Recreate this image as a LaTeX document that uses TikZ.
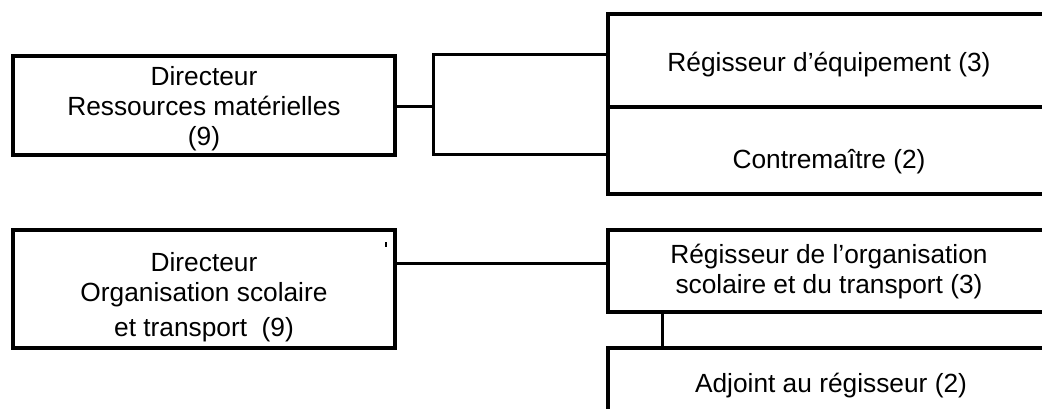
\documentclass[tikz,border=0pt]{standalone}
\usepackage{fontspec}
\setmainfont{Liberation Sans}
\begin{document}
\begin{tikzpicture}[x=1pt,y=-1pt,
  box/.style={draw=black, line width=4pt, rectangle, inner sep=0pt, outer sep=0pt},
  conn/.style={draw=black, line width=3pt},
  txt/.style={font=\fontsize{26.3}{30}\selectfont, align=center, inner sep=0pt, anchor=base}]
\useasboundingbox (0,0) rectangle (1042,408);
\clip (0,0) rectangle (1042,408);
% left boxes
\node[box, minimum width=381.4, minimum height=98.4] (d1) at (204,105.5) {};
\node[box, minimum width=381.7, minimum height=118] (d3) at (204.15,289) {};
% right boxes (open to the right edge)
\node[box, minimum width=492.3, minimum height=93.3] (r1) at (853.85,60.65) {};
\node[box, minimum width=492.3, minimum height=86.7] (r2) at (853.85,150.65) {};
\node[box, minimum width=492.3, minimum height=82] (r4) at (853.85,271) {};
\node[box, minimum width=492.3, minimum height=102] (r5) at (853.85,399) {};
% texts (base anchor = baseline of the last line)
\node[txt] (d1t) at (204,145.5) {Directeur\\Ressources matérielles\\(9)};
\node[txt] (d3t) at (204,336.7) {Directeur\\Organisation scolaire\\[5pt]et transport\hspace{0.55em}(9)};
\node[txt] (r1t) at (829,71) {Régisseur d’équipement (3)};
\node[txt] (r2t) at (829,168) {Contremaître (2)};
\node[txt] (r4t) at (829,293) {Régisseur de l’organisation\\scolaire et du transport (3)};
\node[txt] (r5t) at (831,392) {Adjoint au régisseur (2)};
% connectors
\coordinate (bt) at (433.2,54.7);
\coordinate (bb) at (433.2,154.3);
\coordinate (c1) at (0,106.7);
\coordinate (c3) at (0,263.3);
\coordinate (vx) at (662,0);
\draw[conn] (d1.east |- c1) -- (bt |- c1);
\draw[conn] (bt -| r1.west) -- (bt) -- (bb) -- (bb -| r2.west);
\draw[conn] (d3.east |- c3) -- (r4.west |- c3);
\draw[conn] (r4.south -| vx) -- (r5.north -| vx);
% small stray mark
\coordinate (m1) at (386,242);
\coordinate (m2) at (386,247);
\draw[line width=1.5pt] (m1) -- (m2);
\end{tikzpicture}
\end{document}
